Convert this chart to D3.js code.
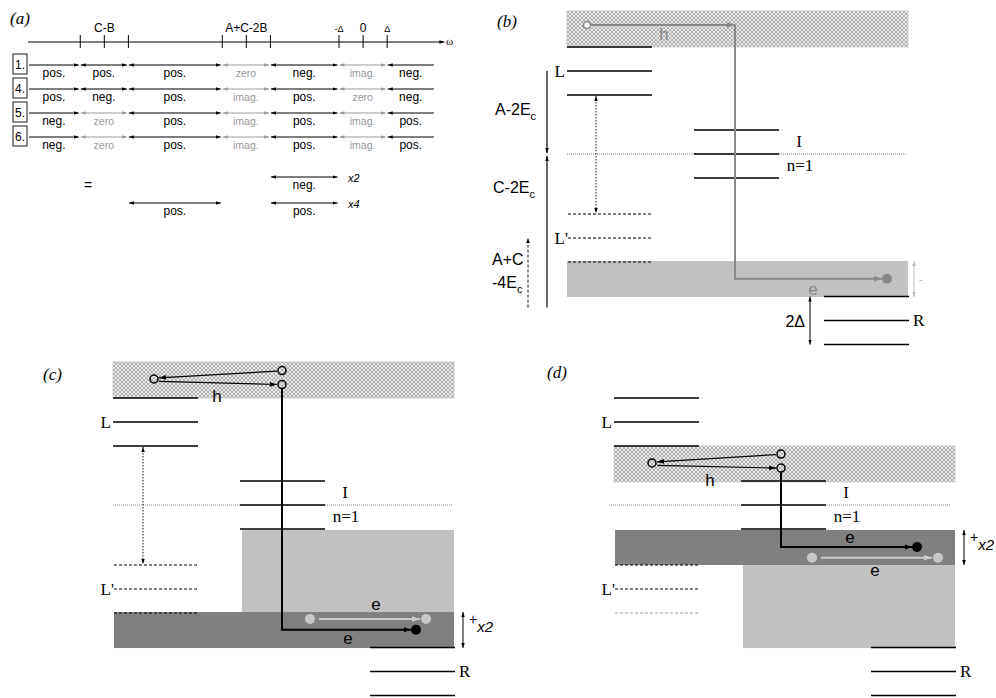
<!DOCTYPE html>
<html>
<head>
<meta charset="utf-8">
<script src="https://cdn.jsdelivr.net/npm/d3@7"></script>
<style>
body { margin: 0; background: #fff; }
text { font-family: "Liberation Sans", Arial, sans-serif; }
.serif { font-family: "Liberation Serif", "Times New Roman", serif; }
</style>
</head>
<body>
<svg id="chart" width="996" height="698"></svg>
<script>
// ---- panel (a) data: omega axis and sign table
var omegaTicks  = [-11.75, -10.75, -9.75, -5.85, -4.85, -3.85, -1, 0, 1];
var omegaLabels = ["", "C-B", "", "", "A+C-2B", "", "-\u0394", "0", "\u0394"];
var segEdges    = [-13.9, -11.75, -9.75, -5.85, -3.85, -1, 1, 3.0];
var rowNames = ["1.", "4.", "5.", "6."];
var row1 = ["pos.", "pos.", "pos.", "zero", "neg.", "imag.", "neg."];
var row4 = ["pos.", "neg.", "pos.", "imag.", "pos.", "zero", "neg."];
var row5 = ["neg.", "zero", "pos.", "imag.", "pos.", "imag.", "pos."];
var row6 = ["neg.", "zero", "pos.", "imag.", "pos.", "imag.", "pos."];
var sumSegsA = [4],    sumSignsA = ["neg."],         sumMultA = "x2";
var sumSegsB = [2, 4], sumSignsB = ["pos.", "pos."], sumMultB = "x4";

// ---- panels (b)-(d) data: energy levels (units of Delta, relative to I)
var levelNames   = ["L", "I", "L'", "R"];
var levelCenters = [3.46, 0, -3.5, -6.94];
var levelSplit   = [1, 0, -1];
var panelNames = ["(b)", "(c)", "(d)"];
var holeBand  = [[4.46, 5.96], [4.46, 5.96], [0.96, 2.46]];
var lightBand = [[-4.46, -5.96], [-1.04, -4.46], [-2.5, -5.96]];
var darkBand  = [null, [-4.46, -5.96], [-1.04, -2.5]];
// hole / electron paths: [position along panel, energy]
var holeStart = [[20, 5.375], [41, 5.25], [38, 1.75]];
var holeEnd1  = [[168, 5.375], [169, 5.6], [167, 2.12]];
var holeEnd2  = [null, [169, 5.02], [167, 1.54]];
var electronEnd = [[320, -5.2], [303, -5.2], [303, -1.75]];
var spectator   = [null, [197, 313, -4.75], [198, 324, -2.2]];

var svg = d3.select("#chart");
var defs = svg.append("defs");

function marker(id, color, size) {
  defs.append("marker")
    .attr("id", id)
    .attr("viewBox", "0 0 10 10")
    .attr("refX", 10).attr("refY", 5)
    .attr("markerWidth", size).attr("markerHeight", size)
    .attr("markerUnits", "userSpaceOnUse")
    .attr("orient", "auto-start-reverse")
    .append("path").attr("d", "M0,1.5L10,5L0,8.5Z").attr("fill", color);
}
marker("aS", "#000", 5);
marker("gS", "#999", 5);
marker("aB", "#000", 7);
marker("gB", "#888", 8);
marker("lB", "#ccc", 8);
marker("lS", "#bbb", 5);

var hatch = defs.append("pattern").attr("id", "hatch")
  .attr("width", 4).attr("height", 4).attr("patternUnits", "userSpaceOnUse");
hatch.append("rect").attr("width", 4).attr("height", 4).attr("fill", "#ebebeb");
hatch.append("path").attr("d", "M0,0L4,4M4,0L0,4").attr("stroke", "#a0a0a0").attr("stroke-width", 0.8);

// ================= panel (a)
var omegaX = d3.scaleLinear().domain([-13.9, 2.8]).range([28, 430]);
var rowY = d3.scalePoint().domain(rowNames).range([65, 137]);
var pa = svg.append("g");

pa.append("text").attr("class", "serif")
  .attr("x", 10).attr("y", 24)
  .style("font-style", "italic").style("font-size", "17px")
  .text("(a)");

var axisG = pa.append("g").attr("transform", "translate(0,42)")
  .call(d3.axisTop(omegaX)
    .tickValues(omegaTicks)
    .tickFormat(function(d, i) { return omegaLabels[i]; })
    .tickSizeInner(7).tickSizeOuter(0));
axisG.select(".domain").remove();
axisG.selectAll(".tick line").attr("y1", 6).attr("stroke", "#000");
axisG.selectAll(".tick text")
  .attr("fill", "#000")
  .style("font-family", "'Liberation Sans', Arial, sans-serif")
  .style("font-size", function(d, i) { return omegaLabels[i].indexOf("\u0394") >= 0 ? "9px" : "12px"; });
pa.append("line")
  .attr("x1", omegaX(-13.9)).attr("x2", omegaX(3.4))
  .attr("y1", 42).attr("y2", 42)
  .attr("stroke", "#000").attr("marker-end", "url(#aS)");
pa.append("text").attr("class", "serif")
  .attr("x", 446).attr("y", 45)
  .style("font-size", "11px").text("\u03c9");

function faint(s) { return s === "zero" || s === "imag."; }

function segArrow(g, j, y, sign, first, last) {
  var c = faint(sign) ? "#999" : "#000";
  var m = faint(sign) ? "url(#gS)" : "url(#aS)";
  g.append("line")
    .attr("x1", omegaX(segEdges[j]) + 1).attr("x2", omegaX(segEdges[j + 1]) - 1)
    .attr("y1", y).attr("y2", y)
    .attr("stroke", c).attr("stroke-width", 1.2)
    .attr("marker-start", first ? null : m)
    .attr("marker-end", last ? null : m);
  g.append("text")
    .attr("x", (omegaX(segEdges[j]) + omegaX(segEdges[j + 1])) / 2)
    .attr("y", y + 12)
    .attr("text-anchor", "middle")
    .attr("fill", faint(sign) ? "#999" : "#000")
    .style("font-size", faint(sign) ? "10.5px" : "12px")
    .text(sign);
}

var rowSigns = [row1, row4, row5, row6];
rowNames.forEach(function(name, i) {
  var y = rowY(name);
  pa.append("rect")
    .attr("x", 13).attr("y", y - 11).attr("width", 14).attr("height", 20)
    .attr("fill", "none").attr("stroke", "#000").attr("stroke-width", 0.9);
  pa.append("text").attr("x", 15).attr("y", y + 4)
    .style("font-size", "12px").text(name);
  rowSigns[i].forEach(function(sign, j) {
    segArrow(pa, j, y, sign, j === 0, j === rowSigns[i].length - 1);
  });
});

pa.append("text").attr("x", 84).attr("y", 190).style("font-size", "14px").text("=");

function sumRow(segs, signs, mult, y) {
  segs.forEach(function(j, k) { segArrow(pa, j, y, signs[k], false, false); });
  pa.append("text")
    .attr("x", 348).attr("y", y + 5)
    .style("font-style", "italic").style("font-size", "11px")
    .text(mult);
}
sumRow(sumSegsA, sumSignsA, sumMultA, 177);
sumRow(sumSegsB, sumSignsB, sumMultB, 203);

// ================= panels (b), (c), (d)
var panelLeft = [567, 113, 614];
var panelIy   = [154, 505, 505];
var panelLabelXY = [[497, 27], [43, 380], [547, 378]];
var levelCols = [[0, 85], [127, 212], [0, 85], [257, 342]];

function subText(g, x, y, main, sub, size) {
  var t = g.append("text").attr("x", x).attr("y", y).style("font-size", size + "px");
  t.append("tspan").text(main);
  t.append("tspan").attr("dy", 5).style("font-size", (size - 5) + "px").text(sub);
  return t;
}

function drawPanel(p) {
  var g = svg.append("g");
  var x = d3.scaleLinear().domain([0, 342]).range([panelLeft[p], panelLeft[p] + 342]);
  var y = d3.scaleLinear().domain([0, 1]).range([panelIy[p], panelIy[p] - 24]);
  var ink = p === 0 ? "#888" : "#000";
  var inkMarker = p === 0 ? "url(#gB)" : "url(#aB)";

  g.append("text").attr("class", "serif")
    .attr("x", panelLabelXY[p][0]).attr("y", panelLabelXY[p][1])
    .style("font-style", "italic").style("font-size", "17px")
    .text(panelNames[p]);

  // bands
  g.append("rect")
    .attr("x", x(0)).attr("width", x(341) - x(0))
    .attr("y", y(holeBand[p][1])).attr("height", y(holeBand[p][0]) - y(holeBand[p][1]))
    .attr("fill", "url(#hatch)").attr("stroke", "#c4c4c4").attr("stroke-width", 0.8);
  var lx0 = p === 0 ? 0 : levelCols[1][0] + 2;
  g.append("rect")
    .attr("x", x(lx0)).attr("width", x(341) - x(lx0))
    .attr("y", y(lightBand[p][0])).attr("height", y(lightBand[p][1]) - y(lightBand[p][0]))
    .attr("fill", "#c1c1c1");
  if (darkBand[p]) {
    g.append("rect")
      .attr("x", x(1)).attr("width", x(341) - x(1))
      .attr("y", y(darkBand[p][0])).attr("height", y(darkBand[p][1]) - y(darkBand[p][0]))
      .attr("fill", "#808080");
  }

  // I-centre reference line
  g.append("line")
    .attr("x1", x(p === 2 ? -5 : 0)).attr("x2", x(p === 2 ? 336 : 340))
    .attr("y1", y(0)).attr("y2", y(0))
    .attr("stroke", "#777").attr("stroke-width", 0.9).attr("stroke-dasharray", "1,1");

  // levels
  levelNames.forEach(function(name, i) {
    levelSplit.forEach(function(s, k) {
      var dashedLevel = name === "L'";
      var col = dashedLevel && p === 2 && k === 2 ? "#999" : "#000";
      g.append("line")
        .attr("x1", x(levelCols[i][0] + (dashedLevel ? 1 : 0))).attr("x2", x(levelCols[i][1]))
        .attr("y1", y(levelCenters[i] + s)).attr("y2", y(levelCenters[i] + s))
        .attr("stroke", col)
        .attr("stroke-width", dashedLevel ? 1 : 1.5)
        .attr("stroke-dasharray", dashedLevel ? "3,2" : null);
    });
  });

  // level labels
  var serifLbl = function(tx, ty, txt, anchor) {
    g.append("text").attr("class", "serif")
      .attr("x", tx).attr("y", ty).attr("text-anchor", anchor)
      .style("font-size", "17px").text(txt);
  };
  serifLbl(x(-2), y(levelCenters[0]) + 6, "L", "end");
  serifLbl(x(1), y(levelCenters[2]) + 6, "L'", "end");
  serifLbl(x(232), y(0) - 7, "I", "middle");
  serifLbl(x(233), y(0) + 17, "n=1", "middle");
  serifLbl(x(346), y(levelCenters[3]) + 5, "R", "start");

  // hole transfer
  if (p === 0) {
    g.append("circle").attr("cx", x(holeStart[p][0])).attr("cy", y(holeStart[p][1]))
      .attr("r", 3.5).attr("fill", "#fff").attr("stroke", ink).attr("stroke-width", 1.5);
    g.append("line")
      .attr("x1", x(holeStart[p][0] + 4)).attr("x2", x(holeEnd1[p][0]))
      .attr("y1", y(holeStart[p][1])).attr("y2", y(holeEnd1[p][1]))
      .attr("stroke", ink).attr("stroke-width", 2).attr("marker-end", inkMarker);
  } else {
    g.append("circle").attr("cx", x(holeStart[p][0])).attr("cy", y(holeStart[p][1]))
      .attr("r", 4).attr("fill", "none").attr("stroke", ink).attr("stroke-width", 1.5);
    [holeEnd1[p], holeEnd2[p]].forEach(function(e) {
      g.append("circle").attr("cx", x(e[0])).attr("cy", y(e[1]))
        .attr("r", 4).attr("fill", "none").attr("stroke", ink).attr("stroke-width", 1.5);
    });
    g.append("line")
      .attr("x1", x(holeEnd1[p][0] - 5)).attr("y1", y(holeEnd1[p][1] - 0.02))
      .attr("x2", x(holeStart[p][0] + 5)).attr("y2", y(holeStart[p][1] + 0.05))
      .attr("stroke", ink).attr("stroke-width", 1.2).attr("marker-end", inkMarker);
    g.append("line")
      .attr("x1", x(holeStart[p][0] + 5)).attr("y1", y(holeStart[p][1] - 0.1))
      .attr("x2", x(holeEnd2[p][0] - 5)).attr("y2", y(holeEnd2[p][1]))
      .attr("stroke", ink).attr("stroke-width", 1.2).attr("marker-end", inkMarker);
  }

  // electron path down to the band
  var topE = p === 0 ? holeEnd1[p][1] : holeEnd2[p][1] - 0.18;
  var xv = p === 0 ? holeEnd1[p][0] : holeEnd2[p][0];
  var line = d3.line().x(function(d) { return x(d[0]); }).y(function(d) { return y(d[1]); });
  g.append("path")
    .attr("d", line([[xv, topE], [xv, electronEnd[p][1]], [electronEnd[p][0] - 5, electronEnd[p][1]]]))
    .attr("fill", "none").attr("stroke", ink).attr("stroke-width", 2)
    .attr("marker-end", inkMarker);
  g.append("circle")
    .attr("cx", x(electronEnd[p][0])).attr("cy", y(electronEnd[p][1]))
    .attr("r", 5).attr("fill", ink);

  // spectator electron
  if (spectator[p]) {
    var sp = spectator[p];
    [sp[0], sp[1]].forEach(function(cx) {
      g.append("circle").attr("cx", x(cx)).attr("cy", y(sp[2])).attr("r", 5).attr("fill", "#c8c8c8");
    });
    g.append("line")
      .attr("x1", x(sp[0] + 9)).attr("x2", x(sp[1] - 6))
      .attr("y1", y(sp[2])).attr("y2", y(sp[2]))
      .attr("stroke", "#c8c8c8").attr("stroke-width", 2).attr("marker-end", "url(#lB)");
    // +x2 width arrow
    g.append("line")
      .attr("x1", x(350)).attr("x2", x(350))
      .attr("y1", y(darkBand[p][0])).attr("y2", y(darkBand[p][1]))
      .attr("stroke", "#000").attr("stroke-width", 1)
      .attr("marker-start", "url(#aS)").attr("marker-end", "url(#aS)");
    var t = g.append("text").attr("x", x(356)).attr("y", y(darkBand[p][0]) + 12).style("font-size", "14px");
    t.append("tspan").text("+");
    t.append("tspan").attr("dy", 8).style("font-style", "italic").style("font-size", "15px").text("x2");
  }

  // carrier labels
  var sansLbl = function(tx, ty, txt, col) {
    g.append("text").attr("x", tx).attr("y", ty).attr("text-anchor", "middle")
      .attr("fill", col).style("font-size", "17px").text(txt);
  };
  if (p === 0) {
    sansLbl(x(97), y(5.375) + 15, "h", ink);
    sansLbl(x(246), y(-5.96) - 2, "e", ink);
  } else if (p === 1) {
    sansLbl(x(104), y(4.6) + 7, "h", ink);
    sansLbl(x(263), y(-4.17) + 5, "e", ink);
    sansLbl(x(235), y(-5.6) + 5, "e", ink);
  } else {
    sansLbl(x(96), y(1.04) + 6, "h", ink);
    sansLbl(x(236), y(-1.38) + 5, "e", ink);
    sansLbl(x(261), y(-2.75) + 5, "e", ink);
  }
}

[0, 1, 2].forEach(drawPanel);

// ---- extra annotations of panel (b)
(function() {
  var g = svg.append("g");
  var x = d3.scaleLinear().domain([0, 342]).range([panelLeft[0], panelLeft[0] + 342]);
  var y = d3.scaleLinear().domain([0, 1]).range([panelIy[0], panelIy[0] - 24]);
  var bottomE = -6.4;
  g.append("line").attr("x1", x(-20)).attr("x2", x(-20))
    .attr("y1", y(levelCenters[0])).attr("y2", y(0) - 1)
    .attr("stroke", "#000").attr("stroke-width", 1.2).attr("marker-end", "url(#aS)");
  g.append("line").attr("x1", x(-20)).attr("x2", x(-20))
    .attr("y1", y(bottomE)).attr("y2", y(0) + 2)
    .attr("stroke", "#000").attr("stroke-width", 1.2).attr("marker-end", "url(#aS)");
  g.append("line").attr("x1", x(29)).attr("x2", x(29))
    .attr("y1", y(levelCenters[0] - 1) + 1).attr("y2", y(levelCenters[2] + 1) - 1)
    .attr("stroke", "#000").attr("stroke-width", 0.9).attr("stroke-dasharray", "1.5,1.5")
    .attr("marker-start", "url(#aS)").attr("marker-end", "url(#aS)");
  g.append("line").attr("x1", x(-39)).attr("x2", x(-39))
    .attr("y1", y(bottomE)).attr("y2", y(levelCenters[2]))
    .attr("stroke", "#000").attr("stroke-width", 0.9).attr("stroke-dasharray", "3,2")
    .attr("marker-end", "url(#aS)");
  subText(g, 495, 115, "A-2E", "c", 16);
  subText(g, 493, 193, "C-2E", "c", 16);
  g.append("text").attr("x", 492).attr("y", 265).style("font-size", "16px").text("A+C");
  subText(g, 492, 288, "-4E", "c", 16);
  // band-width marker
  g.append("line").attr("x1", x(347)).attr("x2", x(347))
    .attr("y1", y(lightBand[0][0])).attr("y2", y(lightBand[0][1]))
    .attr("stroke", "#bbb").attr("stroke-width", 1)
    .attr("marker-start", "url(#lS)").attr("marker-end", "url(#lS)");
  g.append("text").attr("x", x(352)).attr("y", y(-5.2) + 4).attr("fill", "#aaa")
    .style("font-size", "10px").text("-");
  // 2 Delta splitting of R
  g.append("line").attr("x1", x(243)).attr("x2", x(243))
    .attr("y1", y(levelCenters[3] + 1)).attr("y2", y(levelCenters[3] - 1))
    .attr("stroke", "#000").attr("stroke-width", 1)
    .attr("marker-start", "url(#aS)").attr("marker-end", "url(#aS)");
  g.append("text").attr("x", x(238)).attr("y", y(levelCenters[3]) + 6)
    .attr("text-anchor", "end").style("font-size", "16px").text("2\u0394");
})();

// ---- dotted L-L' arrow of panel (c)
(function() {
  var x = d3.scaleLinear().domain([0, 342]).range([panelLeft[1], panelLeft[1] + 342]);
  var y = d3.scaleLinear().domain([0, 1]).range([panelIy[1], panelIy[1] - 24]);
  svg.append("line").attr("x1", x(30)).attr("x2", x(30))
    .attr("y1", y(levelCenters[0] - 1) + 1).attr("y2", y(levelCenters[2] + 1) - 1)
    .attr("stroke", "#000").attr("stroke-width", 0.9).attr("stroke-dasharray", "1.5,1.5")
    .attr("marker-start", "url(#aS)").attr("marker-end", "url(#aS)");
})();
</script>
</body>
</html>
